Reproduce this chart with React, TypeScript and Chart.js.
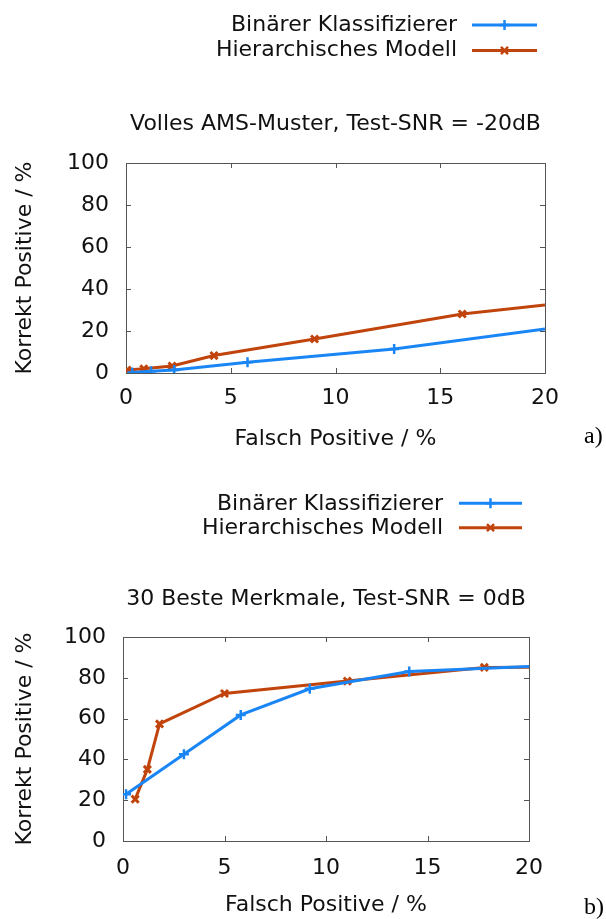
import React, { useEffect, useRef } from "react";
import { Chart, registerables } from "chart.js";

Chart.register(...registerables);

// ---------- data ----------
const seriesLabels = ["Binärer Klassifizierer", "Hierarchisches Modell"];
const xTickValues = [0, 5, 10, 15, 20];
const yTickValues = [0, 20, 40, 60, 80, 100];

const titleA = "Volles AMS-Muster, Test-SNR = -20dB";
const titleB = "30 Beste Merkmale, Test-SNR = 0dB";
const xAxisTitle = "Falsch Positive / %";
const yAxisTitle = "Korrekt Positive / %";

const fpA_binary = [0.3, 1.2, 2.3, 5.8, 12.8, 20];
const tpA_binary = [0.2, 0.8, 1.4, 5.1, 11.4, 21.0];
const fpA_hier = [0.05, 0.85, 2.2, 4.2, 9.0, 16.05, 20];
const tpA_hier = [1.4, 2.0, 3.3, 8.3, 16.2, 28.1, 32.4];

const fpB_binary = [0.15, 3.0, 5.8, 9.2, 14.1, 20];
const tpB_binary = [22.9, 42.5, 61.8, 74.6, 83.1, 85.6];
const fpB_hier = [0.6, 1.2, 1.8, 5.0, 11.05, 17.8, 20];
const tpB_hier = [20.5, 35.1, 57.4, 72.3, 78.4, 85.1, 85.2];

// ---------- style ----------
const BLUE = "#1a86f5";
const ORANGE = "#c0440c";
const FONT = "'DejaVu Sans'";
const FS = 22;
const TEXT = "#111";
const FRAME = "#555";

type Geo = {
  height: number;
  yWidth: number;
  xHeight: number;
  right: number;
  titleTop: number;
  titleBottom: number;
  xTickPad: number;
  xTitleBottom: number;
  legendTextRight: number;
  legendLineX1: number;
  legendLineX2: number;
  legendLineY: number[];
  legendBaseY: number[];
  panelLabel: string;
  panelY: number;
};

function pairs(xs: number[], ys: number[]) {
  return xs.map((x, i) => ({ x, y: ys[i] }));
}

const framePlugin = {
  id: "frameTicks",
  beforeDatasetsDraw(chart: any) {
    const { ctx, chartArea } = chart;
    const { left, right, top, bottom } = chartArea;
    const xs = chart.scales.x;
    const ys = chart.scales.y;
    ctx.save();
    ctx.strokeStyle = FRAME;
    ctx.lineWidth = 1;
    const L = 5;
    ctx.beginPath();
    xs.ticks.forEach((t: any) => {
      const px = Math.round(xs.getPixelForValue(t.value)) + 0.5;
      ctx.moveTo(px, bottom);
      ctx.lineTo(px, bottom - L);
      ctx.moveTo(px, top);
      ctx.lineTo(px, top + L);
    });
    ys.ticks.forEach((t: any) => {
      const py = Math.round(ys.getPixelForValue(t.value)) + 0.5;
      ctx.moveTo(left, py);
      ctx.lineTo(left + L, py);
      ctx.moveTo(right, py);
      ctx.lineTo(right - L, py);
    });
    ctx.stroke();
    ctx.strokeRect(Math.round(left) + 0.5, Math.round(top) + 0.5, Math.round(right - left), Math.round(bottom - top));
    ctx.restore();
  },
};

function drawMarker(ctx: CanvasRenderingContext2D, style: string, x: number, y: number, r: number) {
  ctx.beginPath();
  if (style === "cross") {
    ctx.moveTo(x - r, y);
    ctx.lineTo(x + r, y);
    ctx.moveTo(x, y - r);
    ctx.lineTo(x, y + r);
  } else {
    const d = r * 0.7071;
    ctx.moveTo(x - d, y - d);
    ctx.lineTo(x + d, y + d);
    ctx.moveTo(x + d, y - d);
    ctx.lineTo(x - d, y + d);
  }
  ctx.stroke();
}

function makeLegendPlugin(geo: Geo) {
  return {
    id: "gnuLegend",
    afterDraw(chart: any) {
      const ctx: CanvasRenderingContext2D = chart.ctx;
      ctx.save();
      chart.data.datasets.forEach((ds: any, i: number) => {
        ctx.font = `${FS}px ${FONT}`;
        ctx.fillStyle = TEXT;
        ctx.textAlign = "right";
        ctx.textBaseline = "alphabetic";
        ctx.fillText(ds.label, geo.legendTextRight, geo.legendBaseY[i]);
        ctx.strokeStyle = ds.borderColor;
        ctx.lineWidth = 3;
        ctx.beginPath();
        ctx.moveTo(geo.legendLineX1, geo.legendLineY[i]);
        ctx.lineTo(geo.legendLineX2, geo.legendLineY[i]);
        ctx.stroke();
        ctx.lineWidth = 2.5;
        drawMarker(ctx, ds.pointStyle, (geo.legendLineX1 + geo.legendLineX2) / 2, geo.legendLineY[i], 5);
      });
      ctx.font = `24px 'Liberation Serif'`;
      ctx.fillStyle = "#000";
      ctx.textAlign = "left";
      ctx.textBaseline = "alphabetic";
      ctx.fillText(geo.panelLabel, 584, geo.panelY);
      ctx.restore();
    },
  };
}

function buildConfig(
  title: string,
  binX: number[],
  binY: number[],
  hierX: number[],
  hierY: number[],
  geo: Geo
): any {
  const lastHidden = (n: number) => (c: any) => (c.dataIndex === n - 1 ? 0 : 5);
  return {
    type: "line",
    data: {
      datasets: [
        {
          label: seriesLabels[0],
          data: pairs(binX, binY),
          borderColor: BLUE,
          backgroundColor: BLUE,
          borderWidth: 3,
          pointStyle: "cross",
          pointRadius: lastHidden(binX.length),
          pointBorderWidth: 2.5,
          pointBorderColor: BLUE,
          fill: false,
          tension: 0,
        },
        {
          label: seriesLabels[1],
          data: pairs(hierX, hierY),
          borderColor: ORANGE,
          backgroundColor: ORANGE,
          borderWidth: 3,
          pointStyle: "crossRot",
          pointRadius: lastHidden(hierX.length),
          pointBorderWidth: 3,
          pointBorderColor: ORANGE,
          fill: false,
          tension: 0,
        },
      ],
    },
    options: {
      responsive: false,
      animation: false,
      devicePixelRatio: 1,
      layout: { padding: { left: 0, right: geo.right, top: 0, bottom: 0 } },
      plugins: {
        legend: { display: false },
        tooltip: { enabled: false },
        title: {
          display: true,
          text: title,
          fullSize: false,
          color: TEXT,
          font: { family: FONT, size: FS, weight: "normal" },
          padding: { top: geo.titleTop, bottom: geo.titleBottom },
        },
      },
      scales: {
        x: {
          type: "linear",
          min: 0,
          max: 20,
          afterBuildTicks: (s: any) => {
            s.ticks = xTickValues.map((v) => ({ value: v }));
          },
          afterFit: (s: any) => {
            s.height = geo.xHeight;
          },
          grid: { display: false, drawTicks: false },
          border: { display: false },
          ticks: {
            color: TEXT,
            padding: geo.xTickPad,
            maxRotation: 0,
            font: { family: FONT, size: FS },
          },
          title: {
            display: true,
            text: xAxisTitle,
            color: TEXT,
            font: { family: FONT, size: FS },
            padding: { top: 0, bottom: geo.xTitleBottom },
          },
        },
        y: {
          type: "linear",
          min: 0,
          max: 100,
          afterBuildTicks: (s: any) => {
            s.ticks = yTickValues.map((v) => ({ value: v }));
          },
          afterFit: (s: any) => {
            s.width = geo.yWidth;
          },
          grid: { display: false, drawTicks: false },
          border: { display: false },
          ticks: {
            color: TEXT,
            padding: 17,
            font: { family: FONT, size: FS },
          },
          title: {
            display: true,
            text: yAxisTitle,
            color: TEXT,
            font: { family: FONT, size: FS },
            padding: { top: 12, bottom: 0 },
          },
        },
      },
    },
    plugins: [framePlugin, makeLegendPlugin(geo)],
  };
}

const geoA: Geo = {
  height: 460,
  yWidth: 126,
  xHeight: 87,
  right: 61,
  titleTop: 111,
  titleBottom: 163 - 111 - FS * 1.2,
  xTickPad: 12,
  xTitleBottom: 8,
  legendTextRight: 457,
  legendLineX1: 472,
  legendLineX2: 537,
  legendLineY: [25, 50.5],
  legendBaseY: [31, 56],
  panelLabel: "a)",
  panelY: 443,
};

const geoB: Geo = {
  height: 459,
  yWidth: 123,
  xHeight: 78,
  right: 77,
  titleTop: 126,
  titleBottom: 177 - 126 - FS * 1.2,
  xTickPad: 14,
  xTitleBottom: 1,
  legendTextRight: 443,
  legendLineX1: 459,
  legendLineX2: 522,
  legendLineY: [43.3, 67.7],
  legendBaseY: [50, 74],
  panelLabel: "b)",
  panelY: 454,
};

function Panel({ config, top, height }: { config: any; top: number; height: number }) {
  const ref = useRef<HTMLCanvasElement | null>(null);
  useEffect(() => {
    if (!ref.current) return;
    const chart = new Chart(ref.current, config);
    return () => chart.destroy();
  }, [config]);
  return (
    <canvas
      ref={ref}
      width={606}
      height={height}
      style={{ position: "absolute", left: 0, top, width: 606, height, display: "block" }}
    />
  );
}

const configA = buildConfig(titleA, fpA_binary, tpA_binary, fpA_hier, tpA_hier, geoA);
const configB = buildConfig(titleB, fpB_binary, tpB_binary, fpB_hier, tpB_hier, geoB);

export default function App() {
  return (
    <div
      style={{
        position: "absolute",
        left: 0,
        top: 0,
        width: 606,
        height: 919,
        background: "#fff",
        overflow: "hidden",
      }}
    >
      <Panel config={configA} top={0} height={geoA.height} />
      <Panel config={configB} top={460} height={geoB.height} />
    </div>
  );
}
